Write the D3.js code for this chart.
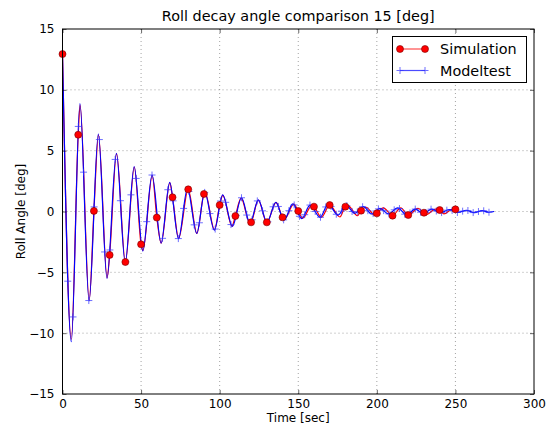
<html>

<head>
    <meta charset="utf-8">
    <style>
        body,
        html {
            padding: 0px;
            margin: 0px;
            background-color: white;
            font-family: "DejaVu Sans", sans-serif;
        }

        .tick text {
            font-size: 12px;
            fill: #000;
        }
    </style>
    <script src="https://cdn.jsdelivr.net/npm/d3@7"></script>
</head>

<body>
    <div id="container"></div>

    <script>
        // Simulation: dots every 10 s, plus the turning points of its line
        const simDotTime = [0, 10, 20, 30, 40, 50, 60, 70, 80, 90, 100, 110, 120, 130, 140, 150, 160, 170, 180, 190, 200, 210, 220, 230, 240, 250];
        const simDotAngle = [12.94, 6.31, 0.05, -3.57, -4.15, -2.7, -0.5, 1.17, 1.82, 1.44, 0.53, -0.37, -0.89, -0.89, -0.48, 0.04, 0.4, 0.53, 0.4, 0.07, -0.15, -0.34, -0.29, -0.1, 0.12, 0.18];

        const simPeakTime = [5.6, 11.2, 17.0, 22.9, 28.4, 34.4, 45.7, 51.2, 57.1, 62.8, 68.3, 73.9, 85.5, 90.7, 96.7, 102.0, 107.8, 113.6, 119.2, 124.6, 135.9, 141.4, 147.1, 152.9, 158.6, 164.7, 176.5, 182.0, 187.6, 193.1, 198.6, 204.1, 215.2, 226.2, 231.7, 237.2, 242.7, 248.2];
        const simPeakAngle = [-10.5, 8.75, -7.3, 6.3, -5.45, 4.75, 3.65, -3.2, 2.95, -2.6, 2.35, -2.2, -1.8, 1.55, -1.5, 1.33, -1.2, 1.1, -0.95, 0.93, 0.75, -0.6, 0.6, -0.55, 0.5, -0.48, -0.45, 0.45, -0.35, 0.35, -0.3, 0.3, 0.3, 0.25, -0.25, 0.2, -0.2, 0.2];

        // Modeltest: turning points of the measured curve
        const modelTime = [0, 5.6, 11.1, 16.9, 22.8, 28.3, 34.3, 39.9, 45.6, 51.1, 57.0, 62.7, 68.2, 73.8, 79.5, 85.4, 90.5, 96.6, 101.9, 108.1, 113.9, 119.3, 124.6, 130.1, 135.7, 141.0, 146.5, 152.2, 157.5, 163.9, 169.0, 175.3, 180.4, 186.0, 191.4, 196.8, 202.0, 207.4, 213.3, 219.0, 224.3, 229.6, 235.0, 240.5, 246.0, 251.5, 257.0, 262.0, 267.0, 271.0, 274.6];
        const modelAngle = [13.0, -10.7, 8.86, -7.35, 6.37, -5.49, 4.78, -4.2, 3.7, -3.25, 3.0, -2.6, 2.4, -2.23, 1.88, -1.8, 1.57, -1.53, 1.36, -1.22, 1.13, -0.97, 0.95, -0.89, 0.75, -0.7, 0.62, -0.59, 0.53, -0.48, 0.6, -0.3, 0.5, -0.15, 0.4, -0.2, 0.26, -0.2, 0.3, -0.29, 0.2, -0.15, 0.2, -0.1, 0.15, -0.08, 0.1, -0.1, 0.08, -0.06, 0.0];
        const modelMarkEvery = 3.35; // seconds between "+" markers

        const xTicks = [0, 50, 100, 150, 200, 250, 300];
        const yTicks = [-15, -10, -5, 0, 5, 10, 15];

        const width = 549;
        const height = 426;
        const plotLeft = 62.5, plotRight = 534, plotTop = 29, plotBottom = 394;

        const x = d3.scaleLinear().domain([0, 300]).range([plotLeft, plotRight]);
        const y = d3.scaleLinear().domain([-15, 15]).range([plotBottom, plotTop]);

        const svg = d3.create("svg")
            .attr("width", width)
            .attr("height", height)
            .style("display", "block")
            .style("background-color", "white");
        // attach early so path lengths can be measured
        document.getElementById("container").append(svg.node());

        // grid
        const grid = svg.append("g")
            .attr("stroke", "#000")
            .attr("stroke-width", 0.6)
            .attr("stroke-dasharray", "1,3")
            .attr("opacity", 0.6);
        grid.selectAll(".gx").data(xTicks.slice(1, -1)).join("line")
            .attr("x1", d => x(d)).attr("x2", d => x(d))
            .attr("y1", plotTop).attr("y2", plotBottom);
        grid.selectAll(".gy").data(yTicks.slice(1, -1)).join("line")
            .attr("y1", d => y(d)).attr("y2", d => y(d))
            .attr("x1", plotLeft).attr("x2", plotRight);

        // simulation line passes through its dots and turning points
        const simPoints = simDotTime.map((t, i) => [t, simDotAngle[i]])
            .concat(simPeakTime.map((t, i) => [t, simPeakAngle[i]]))
            .sort((a, b) => a[0] - b[0]);
        const modelPoints = modelTime.map((t, i) => [t, modelAngle[i]]);

        const line = d3.line()
            .x(d => x(d[0]))
            .y(d => y(d[1]))
            .curve(d3.curveMonotoneX);

        svg.append("path")
            .attr("d", line(simPoints))
            .attr("fill", "none")
            .attr("stroke", "red")
            .attr("stroke-width", 1.2);

        const modelPath = svg.append("path")
            .attr("d", line(modelPoints))
            .attr("fill", "none")
            .attr("stroke", "blue")
            .attr("stroke-width", 1.2);

        // find the drawn y of the model curve at a given x
        function yOnPath(node, px) {
            let lo = 0, hi = node.getTotalLength();
            for (let k = 0; k < 30; k++) {
                const mid = (lo + hi) / 2;
                if (node.getPointAtLength(mid).x < px) lo = mid; else hi = mid;
            }
            return node.getPointAtLength((lo + hi) / 2).y;
        }

        const markTimes = d3.range(0, 274.6, modelMarkEvery);
        const plus = (g, px, py, s) => {
            g.append("line").attr("x1", px - s).attr("x2", px + s).attr("y1", py).attr("y2", py);
            g.append("line").attr("x1", px).attr("x2", px).attr("y1", py - s).attr("y2", py + s);
        };
        const markGroup = svg.append("g")
            .attr("stroke", "#3333ff")
            .attr("stroke-width", 1)
            .attr("opacity", 0.7);
        markTimes.forEach(t => {
            const px = x(t);
            plus(markGroup, px, yOnPath(modelPath.node(), px), 3.5);
        });

        svg.append("g")
            .selectAll("circle")
            .data(simDotTime)
            .join("circle")
            .attr("cx", d => x(d))
            .attr("cy", (d, i) => y(simDotAngle[i]))
            .attr("r", 3.5)
            .attr("fill", "red")
            .attr("stroke", "#700")
            .attr("stroke-width", 0.6);

        // axes with inward ticks
        svg.append("g")
            .attr("transform", `translate(0,${plotBottom})`)
            .call(d3.axisBottom(x).tickValues(xTicks).tickSize(-4).tickPadding(5));
        svg.append("g")
            .attr("transform", `translate(${plotLeft},0)`)
            .call(d3.axisLeft(y).tickValues(yTicks).tickSize(-4).tickPadding(8));
        svg.append("g")
            .attr("transform", `translate(0,${plotTop})`)
            .call(d3.axisTop(x).tickValues(xTicks).tickSize(-4).tickFormat(""));
        svg.append("g")
            .attr("transform", `translate(${plotRight},0)`)
            .call(d3.axisRight(y).tickValues(yTicks).tickSize(-4).tickFormat(""));
        svg.selectAll(".domain").remove();
        svg.selectAll(".tick line").attr("stroke", "#000").attr("stroke-width", 0.6);
        svg.selectAll(".tick text").attr("font-family", "DejaVu Sans").attr("font-size", 12);

        svg.append("rect")
            .attr("x", plotLeft).attr("y", plotTop)
            .attr("width", plotRight - plotLeft).attr("height", plotBottom - plotTop)
            .attr("fill", "none")
            .attr("stroke", "#000")
            .attr("stroke-width", 1);

        // titles
        svg.append("text")
            .attr("x", (plotLeft + plotRight) / 2)
            .attr("y", 21)
            .attr("text-anchor", "middle")
            .attr("font-size", 14.4)
            .text("Roll decay angle comparison 15 [deg]");
        svg.append("text")
            .attr("x", (plotLeft + plotRight) / 2)
            .attr("y", 422)
            .attr("text-anchor", "middle")
            .attr("font-size", 12)
            .text("Time [sec]");
        svg.append("text")
            .attr("transform", `translate(25,${(plotTop + plotBottom) / 2}) rotate(-90)`)
            .attr("text-anchor", "middle")
            .attr("font-size", 12)
            .text("Roll Angle [deg]");

        // legend
        const legend = svg.append("g");
        legend.append("rect")
            .attr("x", 392.5).attr("y", 36.5)
            .attr("width", 134).attr("height", 46)
            .attr("fill", "white")
            .attr("stroke", "#000")
            .attr("stroke-width", 1);
        legend.append("line")
            .attr("x1", 400).attr("x2", 425).attr("y1", 49).attr("y2", 49)
            .attr("stroke", "red").attr("stroke-width", 1.2).attr("opacity", 0.7);
        legend.selectAll("circle").data([400, 425]).join("circle")
            .attr("cx", d => d).attr("cy", 49).attr("r", 3.5)
            .attr("fill", "red").attr("stroke", "#700").attr("stroke-width", 0.6);
        legend.append("text")
            .attr("x", 440).attr("y", 54)
            .attr("font-size", 14.4)
            .text("Simulation");
        legend.append("line")
            .attr("x1", 400).attr("x2", 425).attr("y1", 70.5).attr("y2", 70.5)
            .attr("stroke", "blue").attr("stroke-width", 1.2).attr("opacity", 0.7);
        const legendMarks = legend.append("g").attr("stroke", "#3333ff").attr("stroke-width", 1).attr("opacity", 0.7);
        plus(legendMarks, 400, 70.5, 3.5);
        plus(legendMarks, 425, 70.5, 3.5);
        legend.append("text")
            .attr("x", 440).attr("y", 76)
            .attr("font-size", 14.4)
            .text("Modeltest");
    </script>
</body>

</html>
